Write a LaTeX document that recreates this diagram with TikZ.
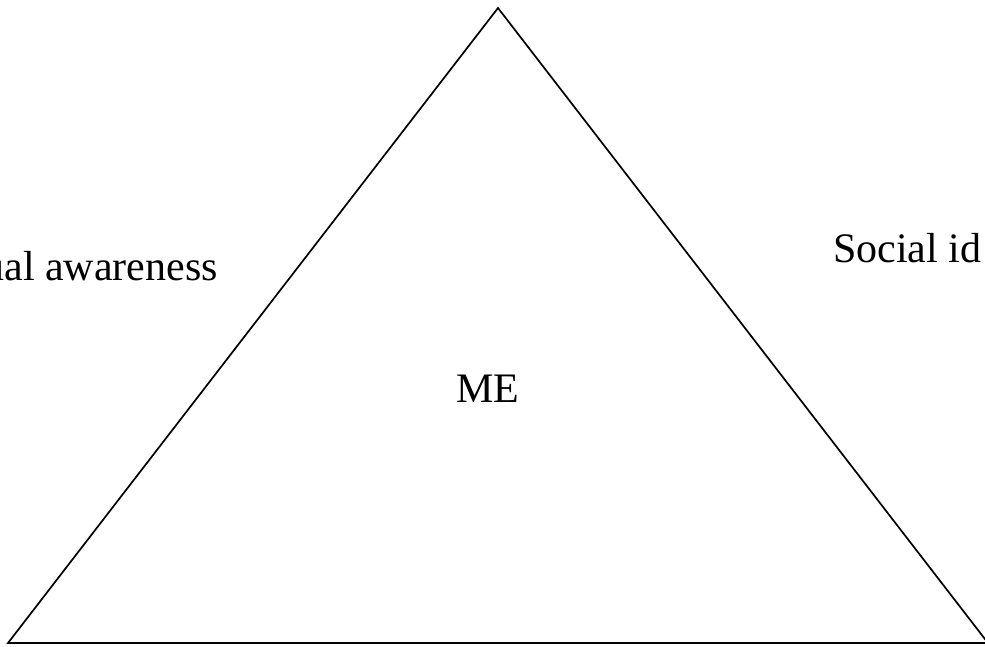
\documentclass[tikz,border=0pt]{standalone}
\usepackage{fontspec}
\setmainfont{Liberation Serif}
\begin{document}
\begin{tikzpicture}[x=1pt,y=-1pt,
  edge/.style={line width=1.7pt,line join=miter},
  lbl/.style={inner sep=0pt,font=\fontsize{42}{48}\selectfont}]
\useasboundingbox (0,0) rectangle (985,647);
\coordinate (top) at (498,8);
\coordinate (bl) at (8,643);
\coordinate (br) at (988,643);
\draw[edge] (top) -- (bl) -- (br) -- cycle;
\node[lbl,anchor=base east] (left) at (218,280) {ual awareness};
\node[lbl,anchor=base west] (right) at (833,262) {Social id};
\node[lbl,anchor=base] (me) at (488,402) {ME};
\end{tikzpicture}
\end{document}
